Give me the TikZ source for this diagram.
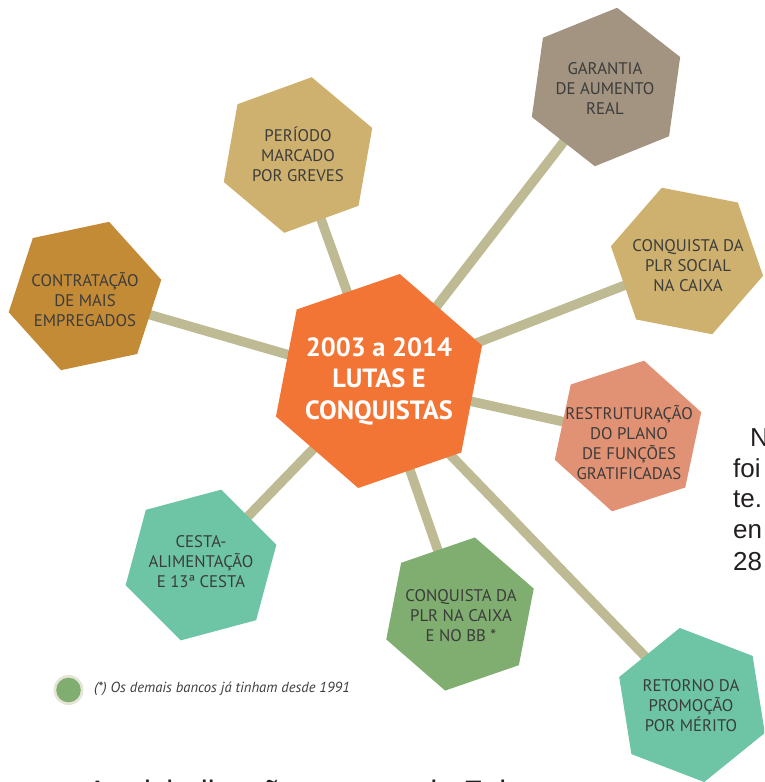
\documentclass[tikz,border=0pt]{standalone}
\usepackage{fontspec}
\setmainfont{PT Sans}
\newfontfamily\arialf{Liberation Sans}
\definecolor{spoke}{HTML}{BEBB94}
\definecolor{orangec}{HTML}{F27536}
\definecolor{garc}{HTML}{A29480}
\definecolor{perc}{HTML}{CFB16F}
\definecolor{conc}{HTML}{C38B36}
\definecolor{resc}{HTML}{E29274}
\definecolor{mintc}{HTML}{6DC5A6}
\definecolor{plrc}{HTML}{7FAE70}
\definecolor{ringc}{HTML}{E6E4D6}
\definecolor{txt}{HTML}{3C3C3B}
\definecolor{pagetxt}{HTML}{231F20}
\newcommand\myhex[4]{\fill[#4] (#1) +(#2:#3) -- +(#2+60:#3) -- +(#2+120:#3) -- +(#2+180:#3) -- +(#2+240:#3) -- +(#2+300:#3) -- cycle;}
\begin{document}
\begin{tikzpicture}[x=1pt,y=-1pt,
  spokeline/.style={draw=spoke, line width=9.5pt},
  lbl/.style={align=center, inner sep=0pt, text=txt, font=\fontsize{16.8}{20}\selectfont},
  big/.style={align=center, inner sep=0pt, text=white, font=\fontsize{26.4}{31.5}\selectfont\bfseries},
  pagetext/.style={anchor=base west, inner sep=0pt, text=pagetxt, font=\arialf\fontsize{26}{31}\selectfont}]
\useasboundingbox (0,0) rectangle (764,782);
\clip (0,0) rectangle (764,782);
% centres
\coordinate (c) at (379,381);
\coordinate (gar) at (606,87);
\coordinate (per) at (298,155);
\coordinate (con) at (85,296);
\coordinate (soc) at (687,261);
\coordinate (res) at (628,436);
\coordinate (ces) at (201,565);
\coordinate (plr) at (460,614);
\coordinate (ret) at (692,705);
% spokes
\foreach \t in {gar,per,con,soc,res,ces,plr,ret}{\draw[spokeline] (c) -- (\t);}
% hexagons
\myhex{c}{-79}{109}{orangec}
\myhex{gar}{-82}{80}{garc}
\myhex{per}{-80}{79}{perc}
\myhex{con}{-72}{78}{conc}
\myhex{soc}{-49}{77.5}{perc}
\myhex{res}{-78}{77}{resc}
\myhex{ces}{-75}{78}{mintc}
\myhex{plr}{-79}{78}{plrc}
\myhex{ret}{-39}{78}{mintc}
% labels
\node[big] (tc) at (379,381) {2003 a 2014\\LUTAS E\\CONQUISTAS};
\node[lbl] (tgar) at (605,89) {GARANTIA\\DE AUMENTO\\REAL};
\node[lbl] (tper) at (298,154) {PERÍODO\\MARCADO\\POR GREVES};
\node[lbl] (tcon) at (85,300) {CONTRATAÇÃO\\DE MAIS\\EMPREGADOS};
\node[lbl] (tsoc) at (688,266) {CONQUISTA DA\\PLR SOCIAL\\NA CAIXA};
\node[lbl] (tres) at (629,443) {RESTRUTURAÇÃO\\DO PLANO\\DE FUNÇÕES\\GRATIFICADAS};
\node[lbl] (tces) at (201,562) {CESTA-\\ALIMENTAÇÃO\\E 13ª CESTA};
\node[lbl] (tplr) at (461,616) {CONQUISTA DA\\PLR NA CAIXA\\E NO BB *};
\node[lbl] (tret) at (691,706) {RETORNO DA\\PROMOÇÃO\\POR MÉRITO};
% legend
\coordinate (legc) at (68.5,690);
\fill[ringc] (legc) circle (15);
\fill[plrc] (legc) circle (12.3);
\node[anchor=west, inner sep=0pt, text=txt, font=\itshape\fontsize{14.6}{16}\selectfont] (leg) at (94,689) {(*) Os demais bancos já tinham desde 1991};
% page text fragments
\node[pagetext] (p1) at (750,446) {N};
\node[pagetext] (p2) at (733,477) {foi};
\node[pagetext] (p3) at (733,507) {te.};
\node[pagetext] (p4) at (733,538) {en};
\node[pagetext] (p5) at (733,570) {28};
\node[pagetext, font=\arialf\fontsize{31}{36}\selectfont] (b1) at (87,802) {A reivindicação};
\node[pagetext, font=\arialf\fontsize{31}{36}\selectfont] (b2) at (420,802) {da Febr};
\end{tikzpicture}
\end{document}
